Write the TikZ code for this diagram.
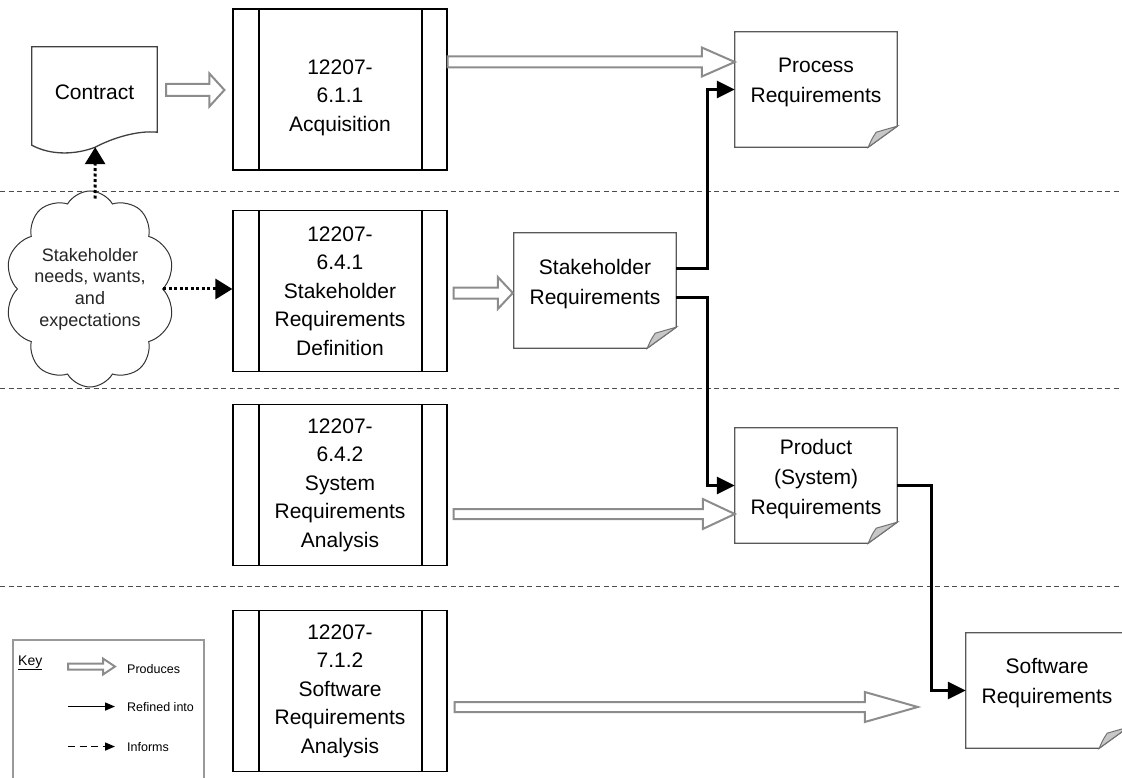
\documentclass[tikz,border=0pt]{standalone}
\usepackage{fontspec}
\setmainfont{Liberation Sans}
\usetikzlibrary{arrows.meta,calc,shapes.symbols}

\newcommand{\boxfont}{\fontsize{21}{28.5}\selectfont}
\newcommand{\docfont}{\fontsize{21}{30}\selectfont}
\newcommand{\keyfont}{\fontsize{12.5}{15}\selectfont}

% hollow "produces" arrow: from, to, shaft half, head half, head length
\newcommand{\produces}[5]{%
  \draw[prod] let \p1=#1, \p2=#2 in
    (\x1,\y1+#3) -- (\x2-#5,\y1+#3) -- (\x2-#5,\y1+#4) -- (\x2,\y1)
    -- (\x2-#5,\y1-#4) -- (\x2-#5,\y1-#3) -- (\x1,\y1-#3) -- cycle;}

% document outline with folded corner
\newcommand{\docframe}[1]{%
  \draw[docline] (#1.north west) -- (#1.north east) -- ([yshift=21pt]#1.south east)
    -- ([xshift=-29pt]#1.south east) -- (#1.south west) -- cycle;
  \draw[foldline] ([yshift=21pt]#1.south east) -- ([xshift=-29pt]#1.south east)
    .. controls ([xshift=-25pt,yshift=9pt]#1.south east) .. ([xshift=-21pt,yshift=15pt]#1.south east) -- cycle;}

\tikzset{
  procbox/.style={draw, line width=1.2pt, fill=white, minimum width=214pt, minimum height=161pt,
    inner sep=0, align=center, font=\boxfont,
    path picture={\draw[line width=1.2pt]
      ([xshift=26pt]path picture bounding box.north west) -- ([xshift=26pt]path picture bounding box.south west)
      ([xshift=-25pt]path picture bounding box.north east) -- ([xshift=-25pt]path picture bounding box.south east);}},
  doc/.style={minimum width=162pt, minimum height=115pt, inner sep=0},
  doctext/.style={align=center, inner sep=0, font=\docfont},
  docline/.style={draw=black!65, line width=1.3pt, fill=white},
  foldline/.style={draw=black!55, line width=1pt, fill=black!22},
  prod/.style={draw=black!45, line width=2pt, fill=white, line join=miter},
  refined/.style={line width=3pt, -{Triangle[length=18pt,width=17pt]}},
  informs/.style={line width=3pt, dash pattern=on 3pt off 2.5pt, -{Triangle[length=17pt,width=20pt]}},
  sep/.style={black!70, line width=0.9pt, dash pattern=on 5pt off 3.5pt},
  keytext/.style={anchor=base west, inner sep=0, font=\keyfont},
}

\begin{document}
\begin{tikzpicture}[x=1pt,y=-1pt]
  \clip (0,0) rectangle (1122,778);

  % lanes
  \draw[sep] (0,191) -- (1122,191);
  \draw[sep] (0,388) -- (1122,388);
  \draw[sep] (0,586) -- (1122,586);

  % processes
  \node[procbox] (acq) at (340,89.5) {};
  \node[doctext, font=\boxfont] (acqtext) at ([yshift=-8pt]acq.center) {12207-\\6.1.1\\Acquisition};
  \node[procbox] (sdef) at (340,291) {12207-\\6.4.1\\Stakeholder\\Requirements\\Definition};
  \node[procbox] (sysa) at (340,485) {12207-\\6.4.2\\System\\Requirements\\Analysis};
  \node[procbox] (swa) at (340,691) {12207-\\7.1.2\\Software\\Requirements\\Analysis};

  % contract
  \node[inner sep=0, minimum width=125pt, minimum height=93pt] (contract) at (94.5,93.5) {};
  \draw[draw=black!75, line width=1.3pt, fill=white] (contract.north west) -- (contract.north east)
    -- ([yshift=8pt]contract.south east)
    .. controls ([xshift=-20pt,yshift=10pt]contract.south east) and ([xshift=-45pt,yshift=2pt]contract.south east)
    .. ([xshift=-62pt,yshift=-7pt]contract.south east)
    .. controls ([xshift=-80pt,yshift=-14pt]contract.south east) and ([xshift=-105pt,yshift=-16pt]contract.south east)
    .. ([yshift=-5pt]contract.south west) -- cycle;
  \node[doctext] (contracttext) at ([yshift=1.5pt]contract.center) {Contract};
  \coordinate (cbot) at ([xshift=-62pt,yshift=-7pt]contract.south east);

  % needs
  \node[cloud, draw=black!80, line width=1pt, fill=white, cloud puffs=10, cloud puff arc=120,
    cloud ignores aspect, minimum width=165pt, minimum height=196pt, inner sep=0, align=center,
    text=black!85, font=\fontsize{18}{21.7}\selectfont] (needs) at (90,289)
    {Stakeholder\\needs, wants,\\and\\expectations};

  % requirements documents
  \node[doc] (preq) at (816,89.5) {};
  \docframe{preq}
  \node[doctext] (preqtext) at ([yshift=7pt]preq.center) {Process\\Requirements};

  \node[doc] (sreq) at (595,290.5) {};
  \docframe{sreq}
  \node[doctext] (sreqtext) at ([yshift=6pt]sreq.center) {Stakeholder\\Requirements};

  \node[doc] (prod) at (816,485.5) {};
  \docframe{prod}
  \node[doctext] (prodtext) at ([yshift=6pt]prod.center) {Product\\(System)\\Requirements};

  \node[doc] (sw) at (1047,690.5) {};
  \docframe{sw}
  \node[doctext] (swtext) at ([yshift=7pt]sw.center) {Software\\Requirements};

  % produces
  \produces{([xshift=9pt,yshift=3.5pt]contract.east)}{([xshift=-8pt]acq.west)}{6}{16.5}{15}
  \produces{([yshift=27.5pt]acq.east)}{(preq.west)}{5.5}{14.5}{33}
  \produces{([xshift=6pt,yshift=-2pt]sdef.east)}{([xshift=-1pt]sreq.west)}{5.5}{16}{15}
  \produces{([xshift=6pt,yshift=-29pt]sysa.east)}{(prod.west)}{5}{15}{32}
  \produces{([xshift=7pt,yshift=-16pt]swa.east)}{([xshift=-48pt]sw.west)}{5}{15}{53}

  % refined into
  \draw[refined] ([yshift=22pt]sreq.east) -- ++(31,0) |- (preq.west);
  \draw[refined] ([yshift=-7pt]sreq.east) -- ++(31,0) |- (prod.west);
  \draw[refined] (prod.east) -- ++(34,0) |- (sw.west);

  % informs
  \draw[informs] ([xshift=5pt,yshift=-8pt]needs.north) -- (cbot);
  \draw[informs] (needs.east) -- (sdef.west |- needs.east);

  % key
  \draw[draw=black!40, line width=1.2pt] (13,640) rectangle (204,800);
  \node[anchor=base west, inner sep=0, font=\fontsize{14}{16}\selectfont] (keytitle) at (18,665) {\underline{Key}};
  \node[keytext] (kprod) at (127,673) {Produces};
  \node[keytext] (kref) at (127,711) {Refined into};
  \node[keytext] (kinf) at (127,751) {Informs};
  \produces{([xshift=-59pt,yshift=2pt]kprod.west)}{([xshift=-12pt]kprod.west)}{3}{8}{12}
  \draw[line width=1.5pt, -{Triangle[length=10pt,width=8pt]}] ([xshift=-59pt]kref.west) -- ([xshift=-12pt]kref.west);
  \draw[line width=1.5pt, dash pattern=on 7pt off 4.5pt, -{Triangle[length=10pt,width=8pt]}]
    ([xshift=-59pt]kinf.west) -- ([xshift=-12pt]kinf.west);
\end{tikzpicture}
\end{document}
